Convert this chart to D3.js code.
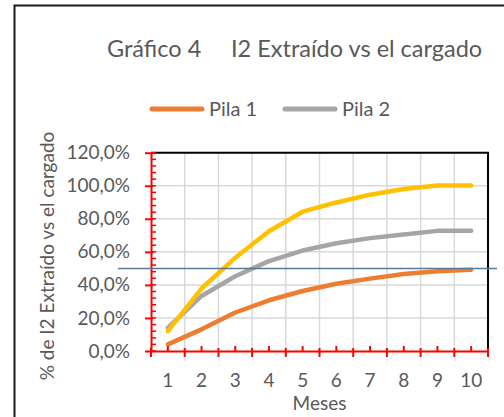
<!DOCTYPE html>
<meta charset="utf-8">
<script src="https://d3js.org/d3.v7.min.js"></script>
<style>
  body { margin: 0; background: #fff; }
  text { font-family: Lato, "Open Sans", sans-serif; fill: #595959; }
</style>
<body>
<div id="chart"></div>
<script>

// data
var meses = ["1", "2", "3", "4", "5", "6", "7", "8", "9", "10"];
var pila1 = [0.040, 0.131, 0.233, 0.307, 0.363, 0.407, 0.438, 0.466, 0.482, 0.492];
var pila2 = [0.140, 0.333, 0.452, 0.544, 0.608, 0.652, 0.683, 0.705, 0.727, 0.727];
var pila3 = [0.120, 0.378, 0.564, 0.725, 0.843, 0.899, 0.946, 0.980, 1.002, 1.002];
var yTicks = [0, 0.2, 0.4, 0.6, 0.8, 1.0, 1.2];
var referencia = 0.5;

var series = [
  {name: "Pila 1", values: pila1, color: "#ED7D31", legend: true},
  {name: "Pila 2", values: pila2, color: "#A5A5A5", legend: true},
  {name: "Pila 3", values: pila3, color: "#FFC000", legend: false}
];

var width = 504, height = 417;
var plot = {left: 151, right: 488, top: 152.7, bottom: 351};

var svg = d3.select("#chart")
  .append("svg")
    .attr("width", width)
    .attr("height", height);

// outer frame (only top and left visible in the crop)
svg.append("path")
  .attr("d", "M14.5," + height + "V5.5H" + width)
  .attr("fill", "none")
  .attr("stroke", "#1a1a1a")
  .attr("stroke-width", 2);

// title
var title = svg.append("text")
  .attr("y", 57)
  .style("font-size", "23.5px");
title.append("tspan").attr("x", 107).text("Gráfico 4");
title.append("tspan").attr("x", 231).text("I2 Extraído vs el cargado");

// legend
var legendItems = series.filter(function(d) { return d.legend; });
var legendX = [150, 283];
var legend = svg.selectAll(".legend")
  .data(legendItems)
  .enter()
  .append("g")
    .attr("transform", function(d, i) { return "translate(" + legendX[i] + ",109)"; });
legend.append("line")
  .attr("x1", 2).attr("x2", 52)
  .attr("stroke", function(d) { return d.color; })
  .attr("stroke-width", 5)
  .attr("stroke-linecap", "round");
legend.append("text")
  .attr("x", 59)
  .attr("y", 6.5)
  .style("font-size", "20px")
  .text(function(d) { return d.name; });

// scales
var x = d3.scaleBand()
  .domain(meses)
  .range([plot.left, plot.right]);
var y = d3.scaleLinear()
  .domain([0, 1.2])
  .range([plot.bottom, plot.top]);

function cx(i) { return x(meses[i]) + x.bandwidth() / 2; }

// gridlines
svg.append("g")
  .selectAll("line")
  .data(yTicks.slice(1, -1))
  .enter()
  .append("line")
    .attr("x1", plot.left).attr("x2", plot.right)
    .attr("y1", y).attr("y2", y)
    .attr("stroke", "#D9D9D9")
    .attr("stroke-width", 1.5);
svg.append("g")
  .selectAll("line")
  .data(meses.slice(1))
  .enter()
  .append("line")
    .attr("x1", function(d) { return x(d); })
    .attr("x2", function(d) { return x(d); })
    .attr("y1", plot.top).attr("y2", plot.bottom)
    .attr("stroke", "#D9D9D9")
    .attr("stroke-width", 1.5);

// plot border top and right
svg.append("path")
  .attr("d", "M" + plot.left + "," + plot.top + "H" + plot.right + "V" + plot.bottom)
  .attr("fill", "none")
  .attr("stroke", "#000")
  .attr("stroke-width", 2);

// lines
var line = d3.line()
  .x(function(d, i) { return cx(i); })
  .y(function(d) { return y(d); });

svg.selectAll(".serie")
  .data(series)
  .enter()
  .append("path")
    .attr("d", function(d) { return line(d.values); })
    .attr("fill", "none")
    .attr("stroke", function(d) { return d.color; })
    .attr("stroke-width", 4.5)
    .attr("stroke-linecap", "round")
    .attr("stroke-linejoin", "round");

// y axis (red)
var yAxis = svg.append("g")
  .attr("transform", "translate(" + plot.left + ",0)")
  .call(d3.axisLeft(y)
    .tickValues(yTicks)
    .tickSizeOuter(0)
    .tickSizeInner(6)
    .tickPadding(15)
    .tickFormat(function(d) { return (d * 100).toFixed(1).replace(".", ",") + "%"; }));
yAxis.select(".domain").attr("stroke", "#FF0000").attr("stroke-width", 2);
yAxis.selectAll(".tick line").attr("stroke", "#FF0000").attr("stroke-width", 2).attr("x1", 2);
yAxis.selectAll(".tick text")
  .attr("fill", "#595959")
  .style("font-family", "Lato, sans-serif")
  .style("font-size", "19px");

// minor y ticks every 4%
svg.append("g")
  .selectAll("line")
  .data(d3.range(0, 31).map(function(i) { return i * 0.04; }))
  .enter()
  .append("line")
    .attr("x1", plot.left).attr("x2", plot.left + 5)
    .attr("y1", y).attr("y2", y)
    .attr("stroke", "#FF0000")
    .attr("stroke-width", 1.5);

// x axis (red): labels + minor ticks at centers
var xAxis = svg.append("g")
  .attr("transform", "translate(0," + plot.bottom + ")")
  .call(d3.axisBottom(x)
    .tickSizeOuter(0)
    .tickSizeInner(-5)
    .tickPadding(23));
xAxis.select(".domain").attr("stroke", "#FF0000").attr("stroke-width", 2);
xAxis.selectAll(".tick line").attr("stroke", "#FF0000").attr("stroke-width", 2);
xAxis.selectAll(".tick text")
  .attr("fill", "#595959")
  .style("font-family", "Lato, sans-serif")
  .style("font-size", "19px");

// major x ticks at category boundaries
svg.append("g")
  .selectAll("line")
  .data(meses.concat(["end"]))
  .enter()
  .append("line")
    .attr("x1", function(d) { return d === "end" ? plot.right : x(d); })
    .attr("x2", function(d) { return d === "end" ? plot.right : x(d); })
    .attr("y1", plot.bottom - 3).attr("y2", plot.bottom + 6)
    .attr("stroke", "#FF0000")
    .attr("stroke-width", 2);

// axis titles
svg.append("text")
  .attr("x", (plot.left + plot.right) / 2)
  .attr("y", 410)
  .attr("text-anchor", "middle")
  .style("font-size", "19px")
  .text("Meses");

svg.append("text")
  .attr("transform", "translate(54,256) rotate(-90)")
  .attr("text-anchor", "middle")
  .style("font-size", "19px")
  .text("% de I2 Extraído vs el cargado");

// 50% reference line
svg.append("line")
  .attr("x1", 118).attr("x2", 497)
  .attr("y1", y(referencia)).attr("y2", y(referencia))
  .attr("stroke", "#5B7A99")
  .attr("stroke-width", 1.5);

</script>
</body>
